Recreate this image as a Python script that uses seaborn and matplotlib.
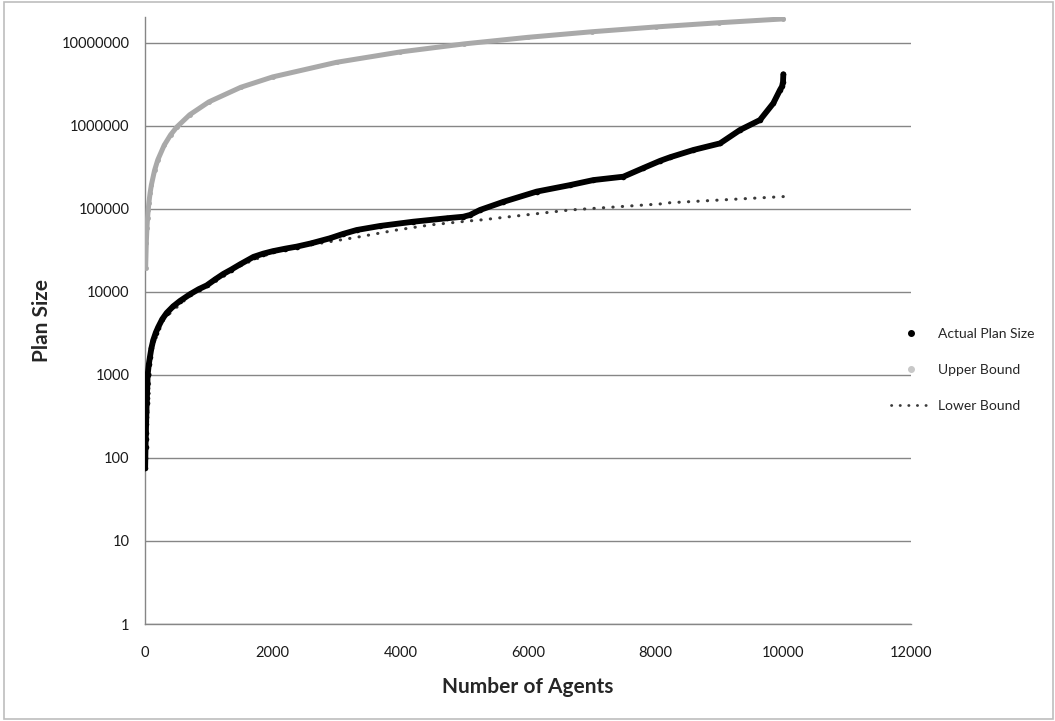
import matplotlib
matplotlib.use("Agg")
import matplotlib.pyplot as plt
import matplotlib.ticker as mticker
from matplotlib.lines import Line2D
from matplotlib.patches import Rectangle
import seaborn as sns
import pandas as pd

# ---- data ----
actual_agents = [2, 5, 8, 11, 14, 17, 20, 23, 26, 29, 32, 35, 38, 41, 60, 78,
                 100, 130, 170, 209, 270, 340, 440, 548, 705, 840, 966, 1100,
                 1227, 1350, 1488, 1700, 1854, 2000, 2200, 2376, 2600, 2898,
                 3100, 3316, 3681, 4203, 4726, 4987, 5091, 5248, 5614, 6136,
                 6658, 7023, 7494, 7800, 8069, 8225, 8591, 9008, 9321, 9634,
                 9843, 9948, 9980, 9995, 10000]
actual_size = [75, 99, 135, 168, 198, 257, 314, 380, 459, 525, 605, 694, 826,
               1000, 1350, 1660, 2100, 2640, 3250, 3800, 4700, 5600, 6700,
               7800, 9400, 10800, 12000, 14200, 16500, 18600, 21500, 26500,
               29000, 31000, 33300, 35200, 38500, 44400, 50000, 55800, 62400,
               70300, 77300, 80700, 84700, 97300, 122000, 162000, 194000,
               223000, 245000, 310000, 380000, 420000, 514000, 617000, 895000,
               1180000, 1880000, 2720000, 3000000, 3400000, 4200000]

upper_agents = [10, 20, 30, 40, 50, 60, 80, 100, 150, 200, 300, 400, 500, 700,
                1000, 1500, 2000, 3000, 4000, 5000, 6000, 7000, 8000, 9000, 10000]
upper_size = [19500, 38800, 59000, 78000, 97000, 117000, 156000, 195000,
              292000, 390000, 585000, 780000, 975000, 1365000, 1950000,
              2925000, 3900000, 5850000, 7800000, 9750000, 11700000,
              13650000, 15600000, 17550000, 19500000]

lower_agents = [10, 100, 300, 700, 1000, 1500, 2000, 2500, 2898, 3316, 3943,
                4465, 5091, 5248, 6658, 8069, 8225, 10000]
lower_size = [95, 2050, 4800, 9000, 11800, 21000, 30000, 36000, 40400, 45600,
              55800, 64200, 72000, 73600, 97300, 115000, 119000, 141000]

y_ticks = [1, 10, 100, 1000, 10000, 100000, 1000000, 10000000]
x_ticks = [0, 2000, 4000, 6000, 8000, 10000, 12000]

sns.set_style("white")
plt.rcParams['font.family'] = ['Lato', 'DejaVu Sans']

GRID = "#868686"

fig = plt.figure(figsize=(10.55, 7.21), dpi=100)
ax = fig.add_axes([145 / 1055, 1 - 624 / 721, 766 / 1055, 607 / 721])

df_up = pd.DataFrame({"agents": upper_agents, "size": upper_size})
df_lo = pd.DataFrame({"agents": lower_agents, "size": lower_size})
df_ac = pd.DataFrame({"agents": actual_agents, "size": actual_size})

sns.lineplot(data=df_up, x="agents", y="size", ax=ax, color="#a9a9a9",
             linewidth=3.6, marker="o", markersize=3.5, markeredgewidth=0,
             estimator=None, sort=False, zorder=3)
sns.lineplot(data=df_lo, x="agents", y="size", ax=ax, color="#3a3a3a",
             linewidth=2.2, linestyle=(0, (0.1, 3)), dash_capstyle="round",
             estimator=None, sort=False, zorder=3)
sns.lineplot(data=df_ac, x="agents", y="size", ax=ax, color="black",
             linewidth=4.2, marker="o", markersize=4, markeredgewidth=0,
             estimator=None, sort=False, zorder=4)

ax.set_yscale("log")
ax.set_ylim(1, 10 ** 7.313)
ax.set_xlim(0, 12000)
ax.set_yticks(y_ticks)
ax.yaxis.set_major_formatter(mticker.FuncFormatter(lambda v, p: f"{int(round(v))}"))
ax.yaxis.set_minor_locator(mticker.NullLocator())
ax.set_xticks(x_ticks)
ax.set_xticklabels([str(t) for t in x_ticks])

ax.grid(axis="y", color=GRID, linewidth=1.0)
ax.grid(axis="x", visible=False)
for s in ["top", "right"]:
    ax.spines[s].set_visible(False)
for s in ["left", "bottom"]:
    ax.spines[s].set_color(GRID)
    ax.spines[s].set_linewidth(1.0)
ax.tick_params(axis="both", which="major", direction="out", length=5,
               width=1, color=GRID, labelsize=10.5, labelcolor="#1a1a1a", pad=6)
ax.tick_params(axis="x", pad=11)

ax.set_xlabel("Number of Agents", fontsize=15, fontweight="bold", labelpad=12)
ax.set_ylabel("Plan Size", fontsize=15, fontweight="bold", labelpad=7)

handles = [
    Line2D([], [], color="black", marker="o", linestyle="none", markersize=4),
    Line2D([], [], color="#c8c8c8", marker="o", linestyle="none", markersize=4),
    Line2D([], [], color="#3a3a3a", linewidth=2.0, linestyle=(0, (0.1, 3)),
           dash_capstyle="round"),
]
fig.legend(handles, ["Actual Plan Size", "Upper Bound", "Lower Bound"],
           loc="center left", bbox_to_anchor=(878 / 1055, 1 - 370 / 721),
           frameon=False, fontsize=10, handlelength=3.0, labelspacing=1.75,
           handletextpad=0.4)

fig.patches.append(Rectangle((4 / 1055, 2 / 721), 1049 / 1055, 717 / 721,
                             transform=fig.transFigure, fill=False,
                             edgecolor="#bdbdbd", linewidth=1.2))

fig.savefig("out.png", dpi=100)
